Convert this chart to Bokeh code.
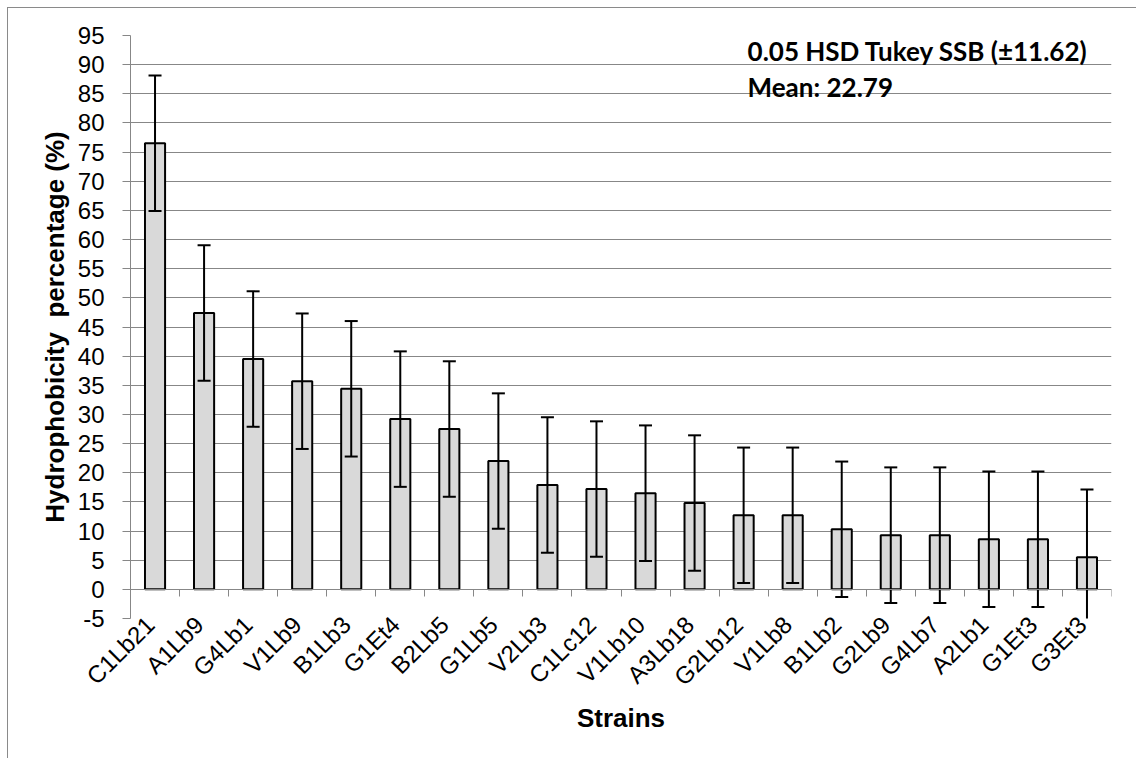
from math import pi
from bokeh.plotting import figure
from bokeh.models import Range1d, FixedTicker, LinearAxis, Label
from bokeh.embed import file_html
from bokeh.resources import INLINE

strains = ["C1Lb21", "A1Lb9", "G4Lb1", "V1Lb9", "B1Lb3", "G1Et4", "B2Lb5", "G1Lb5",
           "V2Lb3", "C1Lc12", "V1Lb10", "A3Lb18", "G2Lb12", "V1Lb8", "B1Lb2", "G2Lb9",
           "G4Lb7", "A2Lb1", "G1Et3", "G3Et3"]
hydrophobicity = [76.5, 47.4, 39.5, 35.7, 34.4, 29.2, 27.5, 22.0, 17.9, 17.2,
                  16.5, 14.8, 12.7, 12.7, 10.3, 9.3, 9.3, 8.6, 8.6, 5.5]
hsd = 11.62
mean_value = 22.79
y_ticks = list(range(-5, 100, 5))
y_min, y_max = -5, 95

n = len(strains)
xs = list(range(1, n + 1))
upper = [v + hsd for v in hydrophobicity]
lower = [v - hsd for v in hydrophobicity]

GRID = "#878787"
FONT = "Liberation Sans"

p = figure(frame_width=981, frame_height=583,
           min_border_left=122, min_border_right=25, min_border_top=27, min_border_bottom=140,
           x_range=Range1d(0.5, n + 0.5), y_range=Range1d(y_min, y_max),
           output_backend="svg", toolbar_location=None)
# label axis slightly offset so the slanted names end at their bar
p.extra_x_ranges = {"labels": Range1d(0.6, n + 0.6)}
p.styles = {"margin-left": "7px", "margin-top": "7px",
            "border-left": "1px solid #8a8a8a", "border-top": "1px solid #8a8a8a"}
p.outline_line_color = None
p.background_fill_color = "white"
p.border_fill_color = "white"

p.xgrid.grid_line_color = None
p.ygrid.grid_line_color = GRID
p.ygrid.grid_line_width = 1

# y axis
yax = p.yaxis[0]
yax.ticker = FixedTicker(ticks=y_ticks)
yax.major_label_overrides = {t: str(t) for t in y_ticks if t < 0}
yax.axis_line_color = GRID
yax.major_tick_line_color = GRID
yax.major_tick_out = 8
yax.major_tick_in = 0
yax.minor_tick_line_color = None
yax.major_label_text_font = FONT
yax.major_label_text_font_size = "24px"
yax.major_label_text_color = "black"
yax.major_label_standoff = 18
yax.axis_label = "Hydrophobicity \u00a0percentage (%)"
yax.axis_label_text_font = FONT
yax.axis_label_text_font_style = "bold"
yax.axis_label_text_font_size = "26px"
yax.axis_label_text_color = "black"
yax.axis_label_standoff = 5

# x axis with category names (at bottom of frame)
xax = p.xaxis[0]
xax.x_range_name = "labels"
xax.ticker = FixedTicker(ticks=xs)
xax.major_label_overrides = {i: s for i, s in zip(xs, strains)}
xax.axis_line_color = None
xax.major_tick_line_color = None
xax.major_tick_out = 0
xax.major_tick_in = 0
xax.minor_tick_line_color = None
xax.major_label_orientation = pi / 4
xax.major_label_text_font = FONT
xax.major_label_text_font_size = "24px"
xax.major_label_text_color = "black"
xax.major_label_standoff = 2
xax.axis_label = "Strains"
xax.axis_label_text_font = FONT
xax.axis_label_text_font_style = "bold"
xax.axis_label_text_font_size = "26px"
xax.axis_label_text_color = "black"
xax.axis_label_standoff = 0

# zero axis line with category boundary ticks
zero_axis = LinearAxis(fixed_location=0,
                       ticker=FixedTicker(ticks=[i + 0.5 for i in range(0, n + 1)]),
                       axis_line_color=GRID, major_tick_line_color=GRID,
                       major_tick_out=7, major_tick_in=0, minor_tick_line_color=None,
                       major_label_text_color=None, major_label_text_font_size="1px")
p.add_layout(zero_axis, "below")

# bars
p.vbar(x=xs, top=hydrophobicity, bottom=0, width=0.41,
       fill_color="#d9d9d9", line_color="black", line_width=2)

# error bars (HSD)
p.segment(x0=xs, y0=lower, x1=xs, y1=upper, line_color="black", line_width=2)
p.scatter(x=xs + xs, y=lower + upper, marker="dash", size=13,
          line_color="black", line_width=2)

# annotation
p.add_layout(Label(x=13.08, y=92.3, text=f"0.05  HSD Tukey SSB (\u00b1{hsd:.2f})",
                   text_font="Lato", text_font_style="bold", text_font_size="26px",
                   text_color="black", text_baseline="middle"))
p.add_layout(Label(x=13.08, y=86.1, text=f"Mean: {mean_value:.2f}",
                   text_font="Lato", text_font_style="bold", text_font_size="26px",
                   text_color="black", text_baseline="middle"))

open("out.html", "w").write(file_html(p, INLINE))
